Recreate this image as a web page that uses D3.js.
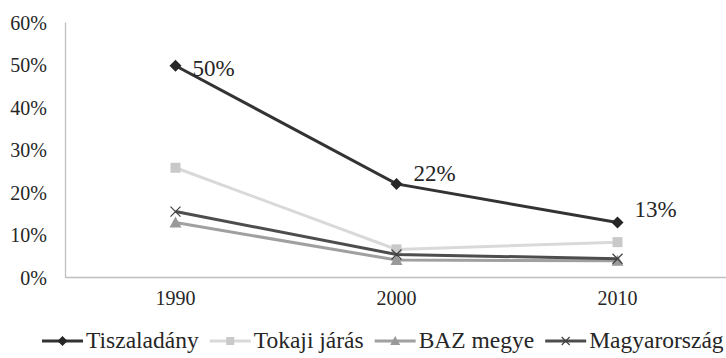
<!DOCTYPE html>
<html>
<head>
<meta charset="utf-8">
<script src="https://cdn.jsdelivr.net/npm/d3@7"></script>
<style>
  body { margin: 0; background: #fff; }
  .axis path { stroke: #bfbfbf; stroke-width: 1.3; }
</style>
</head>
<body>
<div id="chart"></div>
<script>
  // data
  const years = ['1990', '2000', '2010'];
  const tiszaladany = [0.497, 0.219, 0.128];
  const tokaji = [0.257, 0.065, 0.082];
  const baz = [0.128, 0.040, 0.038];
  const magyarorszag = [0.154, 0.053, 0.043];
  const yTicks = [0, 0.1, 0.2, 0.3, 0.4, 0.5, 0.6];
  const seriesNames = ['Tiszaladány', 'Tokaji járás', 'BAZ megye', 'Magyarország'];

  const width = 726, height = 358;
  const margin = {top: 22, right: 0, bottom: 81, left: 65};
  const FONT = '"Liberation Serif"';

  const series = [
    {name: seriesNames[0], values: tiszaladany, color: '#333333', marker: 'diamond', mcolor: '#262626'},
    {name: seriesNames[1], values: tokaji, color: '#d9d9d9', marker: 'square', mcolor: '#c9c9c9'},
    {name: seriesNames[2], values: baz, color: '#a0a0a0', marker: 'triangle', mcolor: '#999999'},
    {name: seriesNames[3], values: magyarorszag, color: '#4d4d4d', marker: 'cross', mcolor: '#404040'}
  ];

  const svg = d3.select('#chart').append('svg')
    .attr('width', width)
    .attr('height', height)
    .style('font-family', FONT);

  const x = d3.scaleBand().domain(years).range([margin.left, 728]);
  const y = d3.scaleLinear().domain([0, 0.6]).range([height - margin.bottom, margin.top]);

  // y axis
  svg.append('g')
    .attr('class', 'axis')
    .attr('transform', `translate(${margin.left},0)`)
    .call(d3.axisLeft(y).tickValues(yTicks).tickFormat(d3.format('.0%')).tickSize(0).tickPadding(18))
    .call(g => g.selectAll('text').attr('dy', '0.35em')
      .style('font-family', FONT).style('font-size', '20px').attr('fill', '#262626'));

  // x axis
  svg.append('g')
    .attr('class', 'axis')
    .attr('transform', `translate(0,${y(0)})`)
    .call(d3.axisBottom(x).tickSize(0).tickPadding(14).tickSizeOuter(0))
    .call(g => g.select('.domain').attr('d', `M${margin.left},0.5H${width}`))
    .call(g => g.selectAll('text').style('font-family', FONT).style('font-size', '20px').attr('fill', '#262626'));

  const line = d3.line()
    .x((d, i) => x(years[i]) + x.bandwidth() / 2)
    .y(d => y(d));

  function drawMarker(g, type, color, cx, cy, r) {
    if (type === 'diamond') {
      g.append('path').attr('d', `M${cx},${cy - r}L${cx + r},${cy}L${cx},${cy + r}L${cx - r},${cy}Z`).attr('fill', color);
    } else if (type === 'square') {
      g.append('rect').attr('x', cx - r + 1).attr('y', cy - r + 1).attr('width', 2 * r - 2).attr('height', 2 * r - 2).attr('fill', color);
    } else if (type === 'triangle') {
      g.append('path').attr('d', `M${cx},${cy - r}L${cx + r},${cy + r - 1}L${cx - r},${cy + r - 1}Z`).attr('fill', color);
    } else {
      g.append('path').attr('d', `M${cx - r + 1},${cy - r + 1}L${cx + r - 1},${cy + r - 1}M${cx + r - 1},${cy - r + 1}L${cx - r + 1},${cy + r - 1}`)
        .attr('stroke', color).attr('stroke-width', 1.2).attr('fill', 'none');
    }
  }

  series.forEach(s => {
    const g = svg.append('g');
    g.append('path')
      .datum(s.values)
      .attr('fill', 'none')
      .attr('stroke', s.color)
      .attr('stroke-width', 3)
      .attr('d', line);
    s.values.forEach((v, i) => drawMarker(g, s.marker, s.mcolor, x(years[i]) + x.bandwidth() / 2, y(v), 6));
  });

  // data labels for Tiszaladány
  const labelDy = [10, -3, -6];
  svg.append('g').selectAll('text')
    .data(tiszaladany)
    .join('text')
    .attr('x', (d, i) => x(years[i]) + x.bandwidth() / 2 + 17)
    .attr('y', (d, i) => y(d) + labelDy[i])
    .attr('fill', '#262626')
    .style('font-family', FONT)
    .style('font-size', '23px')
    .text(d => d3.format('.0%')(d));

  // legend
  const legend = svg.append('g').attr('transform', 'translate(0, 348)');
  let lx = 42;
  series.forEach(s => {
    const item = legend.append('g');
    item.append('line')
      .attr('x1', lx).attr('x2', lx + 41)
      .attr('y1', -7).attr('y2', -7)
      .attr('stroke', s.color).attr('stroke-width', 3);
    drawMarker(item, s.marker, s.mcolor, lx + 20.5, -7, 5);
    const t = item.append('text')
      .attr('x', lx + 44)
      .attr('fill', '#262626')
      .style('font-family', FONT)
      .style('font-size', '23.5px')
      .text(s.name);
    lx += 44 + t.node().getComputedTextLength() + 11;
  });
</script>
</body>
</html>
